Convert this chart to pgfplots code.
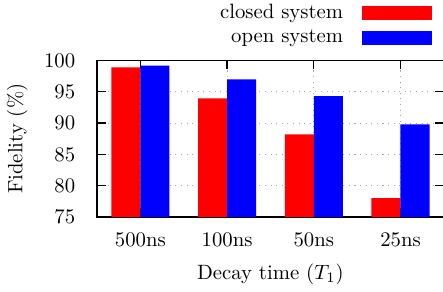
\documentclass[border=0pt]{standalone}
\usepackage{pgfplots}
\pgfplotsset{compat=1.18}
\begin{document}
\begin{tikzpicture}
\begin{axis}[
  scale only axis,
  width=167.3pt, height=75.5pt,
  ybar=0pt, bar width=14pt,
  xmin=-0.5, xmax=3.5,
  ymin=75, ymax=100,
  xtick={0,1,2,3},
  xticklabels={500ns,100ns,50ns,25ns},
  ytick={75,80,85,90,95,100},
  tick align=inside,
  major tick length=4.3pt,
  tick style={black, line width=0.6pt},
  axis line style={line width=0.6pt},
  xtick pos=both, ytick pos=both,
  grid=major,
  major grid style={gray!70, line width=0.5pt, dash pattern=on 0.5pt off 2.2pt},
  xticklabel style={yshift=-4pt},
  yticklabel style={xshift=-7pt},
  xlabel={Decay time ($T_1$)},
  ylabel={Fidelity (\%)},
  every axis x label/.style={at={(axis description cs:0.5,-0.363)}, anchor=center},
  every axis y label/.style={at={(axis description cs:-0.23,0.5)}, anchor=center, rotate=90},
  legend style={at={(axis description cs:0.966,1.065)}, anchor=south east, draw=none, fill=none, inner sep=0pt, row sep=0pt, column sep=7pt},
  legend cell align=right,
  legend plot pos=right,
  clip=false,
]
\addplot[fill=red, draw=none, legend image code/.code={\fill (0pt,-3.4pt) rectangle (33.7pt,3.4pt);}]
  coordinates {(0,98.9) (1,93.95) (2,88.2) (3,78.0)};
\addlegendentry{closed system}
\addplot[fill=blue, draw=none, legend image code/.code={\fill (0pt,-3.4pt) rectangle (33.7pt,3.4pt);}]
  coordinates {(0,99.2) (1,97.0) (2,94.3) (3,89.8)};
\addlegendentry{open system}
\end{axis}
\coordinate (BL) at (current bounding box.south west);
\coordinate (TR) at (current bounding box.north east);
\pgfresetboundingbox
\path[use as bounding box] (BL) rectangle ([xshift=-0.4pt]current axis.south east |- TR);
\end{tikzpicture}
\end{document}
